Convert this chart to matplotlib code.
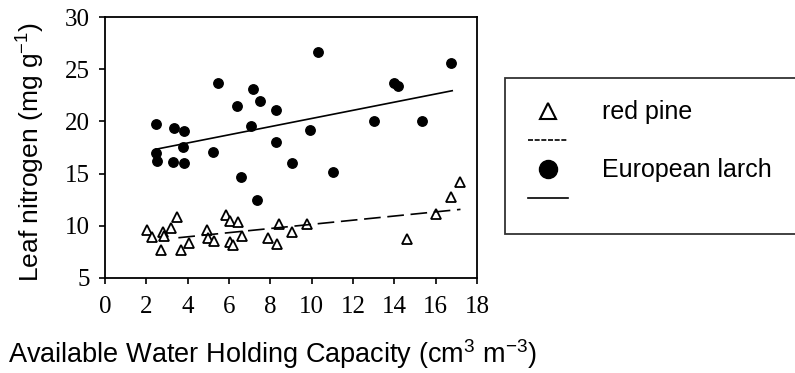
import numpy as np
import matplotlib
matplotlib.use("Agg")
import matplotlib.pyplot as plt
from matplotlib.lines import Line2D

plt.rcParams['mathtext.fontset'] = 'custom'
plt.rcParams['mathtext.rm'] = 'Liberation Sans'
plt.rcParams['mathtext.it'] = 'Liberation Sans:italic'

# European larch (filled circles)
larch_awhc = [2.45, 2.45, 2.53, 3.27, 3.35, 3.84, 3.79, 3.84, 5.21, 5.45,
              6.37, 6.56, 7.06, 7.18, 7.34, 7.50, 8.26, 8.26, 9.06, 9.92,
              10.32, 11.05, 13.01, 13.98, 14.19, 15.35, 16.74]
larch_n = [19.75, 17.0, 16.2, 16.08, 19.34, 19.11, 17.58, 16.05, 17.07, 23.65,
           21.5, 14.7, 19.59, 23.1, 12.47, 21.99, 21.09, 18.06, 15.98, 19.18,
           26.62, 15.18, 20.04, 23.71, 23.39, 20.04, 25.56]

# red pine (open triangles)
pine_awhc = [2.05, 2.26, 2.69, 2.79, 2.85, 3.18, 3.50, 3.66, 4.08, 4.92,
             5.0, 5.27, 5.85, 6.05, 6.05, 6.18, 6.45, 6.61, 7.90, 8.34,
             8.42, 9.03, 9.79, 14.6, 16.0, 16.73, 17.17]
pine_n = [9.6, 8.9, 7.68, 9.44, 9.06, 9.82, 10.88, 7.68, 8.32, 9.6,
          8.8, 8.58, 11.03, 10.49, 8.48, 8.16, 10.4, 9.02, 8.8, 8.26,
          10.17, 9.44, 10.17, 8.74, 11.1, 12.73, 14.23]

# regression lines: intercept, slope, x-range
larch_fit = [16.37, 0.391]
larch_fit_range = [2.45, 16.8]
pine_fit = [8.15, 0.199]
pine_fit_range = [3.55, 17.2]

xticks = [0, 2, 4, 6, 8, 10, 12, 14, 16, 18]
yticks = [5, 10, 15, 20, 25, 30]

fig = plt.figure(figsize=(7.95, 3.73), dpi=100)
ax = fig.add_axes([105/795, 1 - 278/373, 372/795, 261/373])

ax.plot(larch_awhc, larch_n, 'o', color='black', ms=6.8, ls='none')
ax.plot(pine_awhc, pine_n, '^', mfc='white', mec='black', mew=1.3, ms=6.5, ls='none')

xl = np.array(larch_fit_range)
ax.plot(xl, larch_fit[0] + larch_fit[1] * xl, color='black', lw=1.2)
xp = np.array(pine_fit_range)
ax.plot(xp, pine_fit[0] + pine_fit[1] * xp, color='black', lw=1.2, dashes=(10, 4))

ax.set_xlim(0, 18)
ax.set_ylim(5, 30)
ax.set_xticks(xticks)
ax.set_yticks(yticks)
ax.set_xticklabels([str(t) for t in xticks], fontfamily='Liberation Serif', fontsize=18)
ax.set_yticklabels([str(t) for t in yticks], fontfamily='Liberation Serif', fontsize=18)
for s in ax.spines.values():
    s.set_linewidth(1.3)
ax.tick_params(direction='out', length=4, width=1.2, top=False, right=False)
ax.tick_params(axis='y', pad=7)
ax.tick_params(axis='x', pad=9)

ax.set_ylabel('Leaf nitrogen (mg g$^{-1}$)', fontfamily='Liberation Sans', fontsize=19)
ax.yaxis.label.set_verticalalignment('center')
ax.yaxis.set_label_coords((31 - 105) / 372, (278 - 152) / 261)

ax.set_xlabel('Available Water Holding Capacity (cm$^{3}$ m$^{-3}$)',
              fontfamily='Liberation Sans', fontsize=19.5, loc='left')
ax.xaxis.label.set_verticalalignment('center')
ax.xaxis.set_label_coords((8 - 105) / 372, (278 - 354) / 261)

handles = [
    Line2D([], [], marker='^', mfc='white', mec='black', mew=1.5, ms=12, ls='none'),
    Line2D([], [], color='black', lw=1.2, dashes=(3, 1)),
    Line2D([], [], marker='o', color='black', ms=13, ls='none'),
    Line2D([], [], color='black', lw=1.2),
]
labels = ['red pine', '', 'European larch', '']
leg = fig.legend(handles, labels, loc='upper left',
                 bbox_to_anchor=(505/795, 1 - 227/373, 292/795, 149/373),
                 mode='expand', frameon=True, fancybox=False, edgecolor='black',
                 prop={'family': 'Liberation Sans', 'size': 18},
                 handlelength=1.6, handletextpad=1.4, labelspacing=0.2,
                 borderpad=0.9, borderaxespad=0)
leg.get_frame().set_linewidth(1.3)

fig.savefig('out.png', dpi=100)
